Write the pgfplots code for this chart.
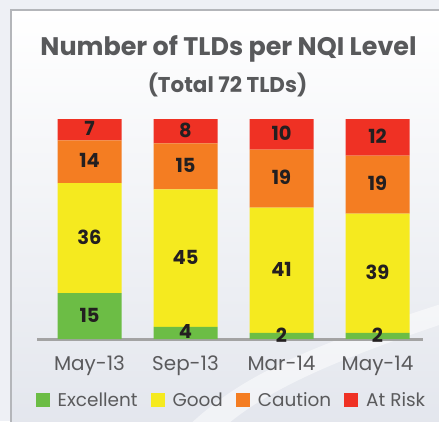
\documentclass[border=0pt]{standalone}
\usepackage{fontspec}
\setmainfont{Poppins}
\usepackage{pgfplots}
\pgfplotsset{compat=1.18}
\definecolor{cExc}{HTML}{6CBD45}
\definecolor{cGood}{HTML}{F5EA1F}
\definecolor{cCau}{HTML}{F47D22}
\definecolor{cRisk}{HTML}{EF3124}
\definecolor{bgout}{HTML}{EEF0F5}
\definecolor{panelbot}{HTML}{E3E6ED}
\definecolor{panelborder}{HTML}{B4B6BA}
\definecolor{axisgray}{HTML}{A3A3A3}
\definecolor{titlegray}{HTML}{58595B}
\definecolor{labgray}{HTML}{5A5A5C}
\definecolor{numdark}{HTML}{231F20}
\begin{document}
\begin{tikzpicture}[x=1bp,y=1bp]
\useasboundingbox (-37,-82) rectangle (402,339);
\fill[bgout] (-37,-82) rectangle (402,339);
\begin{scope}
\clip (-37,-82) rectangle (402,339);
\shade[top color=white,bottom color=panelbot] (-26,-90) rectangle (410,329);
\fill[white, opacity=0.5] (148,-90) .. controls (200,-40) and (260,-10) .. (420,40) -- (420,20) .. controls (300,-20) and (230,-50) .. (185,-90) -- cycle;
\draw[panelborder, line width=1.5bp] (-26,-90) -- (-26,329) -- (410,329);
\end{scope}
\node[font=\bfseries\fontsize{25.5}{25.5}\selectfont, text=titlegray] at (191.5,290) {Number of TLDs per NQI Level};
\node[font=\bfseries\fontsize{21.5}{21.5}\selectfont, text=titlegray] at (190.5,254) {(Total 72 TLDs)};
\begin{axis}[
  at={(0,0)}, anchor=south west,
  scale only axis, width=386bp, height=220bp,
  xmin=-0.547, xmax=3.474, ymin=0, ymax=72,
  ybar stacked, bar width=64bp,
  axis y line=none, axis x line*=bottom,
  x axis line style={line width=3bp, draw=axisgray, -},
  xtick={0,1,2,3}, xticklabels={May-13,Sep-13,Mar-14,May-14},
  major tick length=0pt,
  xticklabel style={font=\fontsize{20}{20}\selectfont, text=labgray, anchor=base, yshift=-31bp},
  clip=false,
  legend columns=4,
  legend image code/.code={\fill[#1,draw=none] (0bp,-7bp) rectangle (14bp,7bp);},
  legend style={at={(0.501,-0.277)}, anchor=center, draw=none, fill=none,
    font=\fontsize{18.5}{18.5}\selectfont, text=labgray,
    nodes={inner sep=0bp},
    /tikz/every odd column/.append style={column sep=8bp},
    /tikz/every even column/.append style={column sep=13bp}},
]
\addplot[fill=cExc, draw=none] coordinates {(0,15) (1,4) (2,2) (3,2)};
\addplot[fill=cGood, draw=none] coordinates {(0,36) (1,45) (2,41) (3,39)};
\addplot[fill=cCau, draw=none] coordinates {(0,14) (1,15) (2,19) (3,19)};
\addplot[fill=cRisk, draw=none] coordinates {(0,7) (1,8) (2,10) (3,12)};
\legend{Excellent,Good,Caution,At Risk}
\end{axis}
\begin{axis}[
  at={(0,0)}, anchor=south west,
  scale only axis, width=386bp, height=220bp,
  xmin=-0.547, xmax=3.474, ymin=0, ymax=72,
  axis lines=none, clip=false,
  nodes near coords, point meta=explicit symbolic,
  every node near coord/.append style={anchor=center, yshift=1bp, font=\bfseries\fontsize{19.5}{19.5}\selectfont, text=numdark},
]
\addplot[only marks, mark=none] coordinates {
 (0,7.5)[15] (1,2)[4] (2,1)[2] (3,1)[2]
 (0,33)[36] (1,26.5)[45] (2,22.5)[41] (3,21.5)[39]
 (0,58)[14] (1,56.5)[15] (2,52.5)[19] (3,50.5)[19]
 (0,68.5)[7] (1,68)[8] (2,67)[10] (3,66)[12]
};
\end{axis}
\end{tikzpicture}
\end{document}
